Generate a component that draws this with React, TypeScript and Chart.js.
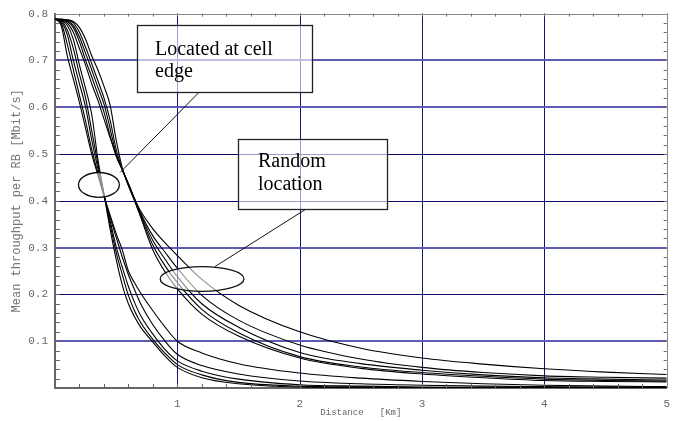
import React, { useEffect, useRef } from 'react';
import { Chart, registerables } from 'chart.js';

Chart.register(...registerables);

// Distance [Km] sample positions shared by all curves
const DIST = [0, 0.05, 0.1, 0.15, 0.2, 0.25, 0.3, 0.35, 0.4, 0.45, 0.5, 0.55, 0.6, 0.65, 0.7, 0.8, 0.9, 1.0, 1.2, 1.5, 2, 2.5, 3, 3.5, 4, 4.5, 5];

// Users located at cell edge (steeper group)
const EDGE_1 = [0.788, 0.775, 0.71, 0.66, 0.61, 0.555, 0.5, 0.455, 0.41, 0.37, 0.33, 0.295, 0.25, 0.225, 0.203, 0.165, 0.13, 0.1, 0.075, 0.052, 0.032, 0.021, 0.014, 0.009, 0.006, 0.004, 0.003];
const EDGE_2 = [0.788, 0.78, 0.735, 0.68, 0.625, 0.57, 0.51, 0.46, 0.412, 0.365, 0.322, 0.28, 0.242, 0.21, 0.18, 0.135, 0.1, 0.072, 0.048, 0.03, 0.015, 0.009, 0.006, 0.004, 0.003, 0.002, 0.0015];
const EDGE_3 = [0.788, 0.783, 0.755, 0.7, 0.65, 0.6, 0.53, 0.47, 0.413, 0.358, 0.302, 0.258, 0.217, 0.183, 0.155, 0.115, 0.082, 0.058, 0.036, 0.019, 0.007, 0.004, 0.002, 0.0015, 0.001, 0.001, 0.0005];
const EDGE_4 = [0.788, 0.785, 0.765, 0.725, 0.67, 0.62, 0.55, 0.48, 0.414, 0.35, 0.29, 0.242, 0.198, 0.165, 0.14, 0.104, 0.074, 0.05, 0.028, 0.012, 0.004, 0.002, 0.001, 0.0005, 0.0005, 0, 0];
const EDGE_5 = [0.788, 0.786, 0.775, 0.745, 0.69, 0.64, 0.585, 0.49, 0.415, 0.34, 0.275, 0.22, 0.18, 0.152, 0.13, 0.098, 0.068, 0.044, 0.022, 0.009, 0.002, 0.001, 0.0005, 0, 0, 0, 0];

// Users at random location
const RAND_1 = [0.788, 0.787, 0.78, 0.76, 0.725, 0.69, 0.65, 0.615, 0.575, 0.535, 0.498, 0.466, 0.437, 0.405, 0.378, 0.34, 0.31, 0.283, 0.232, 0.177, 0.12, 0.085, 0.064, 0.051, 0.041, 0.034, 0.029];
const RAND_2 = [0.788, 0.787, 0.783, 0.77, 0.74, 0.7, 0.665, 0.628, 0.59, 0.54, 0.495, 0.467, 0.436, 0.404, 0.374, 0.325, 0.29, 0.256, 0.198, 0.145, 0.092, 0.062, 0.044, 0.033, 0.026, 0.023, 0.021];
const RAND_3 = [0.788, 0.788, 0.785, 0.775, 0.75, 0.715, 0.68, 0.643, 0.607, 0.555, 0.5, 0.467, 0.435, 0.403, 0.371, 0.315, 0.275, 0.238, 0.18, 0.13, 0.076, 0.052, 0.038, 0.028, 0.022, 0.019, 0.017];
const RAND_4 = [0.788, 0.788, 0.786, 0.78, 0.76, 0.728, 0.693, 0.657, 0.62, 0.573, 0.51, 0.468, 0.434, 0.402, 0.368, 0.305, 0.261, 0.225, 0.168, 0.118, 0.067, 0.045, 0.033, 0.025, 0.019, 0.016, 0.015];
const RAND_5 = [0.788, 0.788, 0.787, 0.783, 0.77, 0.745, 0.71, 0.68, 0.645, 0.605, 0.53, 0.47, 0.432, 0.4, 0.365, 0.295, 0.248, 0.212, 0.158, 0.111, 0.064, 0.042, 0.03, 0.022, 0.016, 0.014, 0.013];

const SERIES = [EDGE_1, EDGE_2, EDGE_3, EDGE_4, EDGE_5, RAND_1, RAND_2, RAND_3, RAND_4, RAND_5];

const X_TICKS = [1, 2, 3, 4, 5];
const Y_TICKS = [0.1, 0.2, 0.3, 0.4, 0.5, 0.6, 0.7, 0.8];
const X_GRID = [1, 2, 3, 4];
const Y_GRID_LIGHT = [0.1, 0.3, 0.6, 0.7];
const Y_GRID_DARK = [0.2, 0.4, 0.5];

const X_TITLE = 'Distance   [Km]';
const Y_TITLE = 'Mean throughput per RB [Mbit/s]';
const LABEL_EDGE = ['Located at cell', 'edge'];
const LABEL_RANDOM = ['Random', 'location'];

const gridPlugin = {
  id: 'customGrid',
  beforeDatasetsDraw(chart: any) {
    const { ctx, chartArea, scales } = chart;
    const { left, right, top, bottom } = chartArea;
    ctx.save();
    X_GRID.forEach((v) => {
      const x = Math.round(scales.x.getPixelForValue(v));
      ctx.fillStyle = '#12127a';
      ctx.fillRect(x, top, 1, bottom - top);
    });
    Y_GRID_LIGHT.forEach((v) => {
      const y = Math.round(scales.y.getPixelForValue(v));
      ctx.fillStyle = '#5c5cb2';
      ctx.fillRect(left, y - 1, right - left, 2);
    });
    Y_GRID_DARK.forEach((v) => {
      const y = Math.round(scales.y.getPixelForValue(v));
      ctx.fillStyle = '#0a0a6c';
      ctx.fillRect(left, y, right - left, 1);
    });
    ctx.restore();
  },
};

const decorPlugin = {
  id: 'decor',
  afterDatasetsDraw(chart: any) {
    const { ctx, chartArea, scales } = chart;
    const xs = scales.x;
    const ys = scales.y;
    const px = (v: number) => xs.getPixelForValue(v);
    const py = (v: number) => ys.getPixelForValue(v);
    ctx.save();

    const ellipse = (cx: number, cy: number, rx: number, ry: number) => {
      const X = px(cx), Y = py(cy);
      const RX = px(cx + rx) - X, RY = Y - py(cy + ry);
      ctx.beginPath();
      ctx.ellipse(X, Y, RX, RY, 0, 0, Math.PI * 2);
      ctx.fillStyle = 'rgba(255,255,255,0.55)';
      ctx.fill();
      ctx.lineWidth = 1.3;
      ctx.strokeStyle = '#111';
      ctx.stroke();
    };
    ellipse(0.359, 0.434, 0.167, 0.0265);
    ellipse(1.202, 0.233, 0.342, 0.0265);

    const seg = (x1: number, y1: number, x2: number, y2: number) => {
      ctx.beginPath();
      ctx.moveTo(px(x1), py(y1));
      ctx.lineTo(px(x2), py(y2));
      ctx.lineWidth = 1;
      ctx.strokeStyle = '#111';
      ctx.stroke();
    };
    seg(1.178, 0.632, 0.534, 0.461);
    seg(1.308, 0.2595, 2.05, 0.382);

    const box = (x1: number, y1: number, x2: number, y2: number, lines: string[], dx: number, dy: number) => {
      const L = Math.round(px(x1)), T = Math.round(py(y1)), R = Math.round(px(x2)), B = Math.round(py(y2));
      ctx.fillStyle = 'rgba(255,255,255,0.6)';
      ctx.fillRect(L, T, R - L, B - T);
      ctx.lineWidth = 1.3;
      ctx.strokeStyle = '#222';
      ctx.strokeRect(L + 0.5, T + 0.5, R - L, B - T);
      ctx.fillStyle = '#000';
      ctx.font = '20px "Liberation Serif", "Times New Roman", serif';
      ctx.textAlign = 'left';
      ctx.textBaseline = 'alphabetic';
      lines.forEach((t, i) => ctx.fillText(t, L + dx, T + dy + i * 22.5));
    };
    box(0.672, 0.776, 2.098, 0.632, LABEL_EDGE, 18, 29.5);
    box(1.495, 0.533, 2.71, 0.382, LABEL_RANDOM, 20, 28);

    // frame tick marks (inward)
    ctx.strokeStyle = '#666';
    ctx.lineWidth = 1;
    for (let i = 0; i <= 40; i++) {
      const y = Math.round(py(i * 0.02)) + 0.5;
      ctx.beginPath();
      ctx.moveTo(chartArea.left, y);
      ctx.lineTo(chartArea.left + 5, y);
      ctx.moveTo(chartArea.right, y);
      ctx.lineTo(chartArea.right - 3, y);
      ctx.stroke();
    }
    for (let i = 0; i <= 25; i++) {
      const x = Math.round(px(i * 0.2)) + 0.5;
      ctx.beginPath();
      ctx.moveTo(x, chartArea.bottom);
      ctx.lineTo(x, chartArea.bottom - 4);
      ctx.moveTo(x, chartArea.top);
      ctx.lineTo(x, chartArea.top + 3);
      ctx.stroke();
    }
    ctx.strokeStyle = '#888';
    ctx.beginPath();
    ctx.moveTo(chartArea.left, Math.round(chartArea.top) + 0.5);
    ctx.lineTo(chartArea.right, Math.round(chartArea.top) + 0.5);
    ctx.moveTo(Math.round(chartArea.right) + 0.5, chartArea.top);
    ctx.lineTo(Math.round(chartArea.right) + 0.5, chartArea.bottom);
    ctx.stroke();
    ctx.restore();
  },
};

export default function App() {
  const ref = useRef<HTMLCanvasElement | null>(null);
  useEffect(() => {
    if (!ref.current) return;
    const chart = new Chart(ref.current, {
      type: 'line',
      data: {
        datasets: SERIES.map((ys, k) => ({
          label: 'curve ' + (k + 1),
          data: DIST.map((d, i) => ({ x: d, y: ys[i] })),
          borderColor: '#000',
          borderWidth: 1.1,
          pointRadius: 0,
          fill: false,
          cubicInterpolationMode: 'monotone' as const,
        })),
      },
      options: {
        responsive: false,
        animation: false,
        devicePixelRatio: 1,
        layout: { padding: { top: 10, right: 11, left: 0, bottom: 0 } },
        plugins: { legend: { display: false }, tooltip: { enabled: false } },
        scales: {
          x: {
            type: 'linear',
            min: 0,
            max: 5,
            afterBuildTicks: (s: any) => {
              s.ticks = [0, ...X_TICKS].map((v) => ({ value: v }));
            },
            ticks: {
              autoSkip: false,
              maxRotation: 0,
              padding: 9,
              color: '#666',
              font: { family: '"Liberation Mono", monospace', size: 11 },
              callback: (v: any) => (X_TICKS.includes(Number(v)) ? String(v) : ''),
            },
            grid: { display: false, drawTicks: false },
            border: { display: true, color: '#666', width: 2 },
            title: {
              display: true,
              text: X_TITLE,
              color: '#666',
              font: { family: '"Liberation Mono", monospace', size: 9 },
              padding: { top: 0, bottom: 3 },
            },
            afterFit: (s: any) => {
              s.height = 33;
            },
          },
          y: {
            type: 'linear',
            min: 0,
            max: 0.8,
            afterBuildTicks: (s: any) => {
              s.ticks = [0, ...Y_TICKS].map((v) => ({ value: v }));
            },
            ticks: {
              autoSkip: false,
              padding: 7,
              color: '#666',
              font: { family: '"Liberation Mono", monospace', size: 11 },
              callback: (v: any) => {
                const n = Math.round(Number(v) * 10);
                return n === 0 ? '' : (n / 10).toFixed(1);
              },
            },
            grid: { display: false, drawTicks: false },
            border: { display: true, color: '#666', width: 2 },
            title: {
              display: true,
              text: Y_TITLE,
              color: '#777',
              font: { family: '"Liberation Mono", monospace', size: 12 },
              padding: { top: 10, bottom: 0 },
            },
            afterFit: (s: any) => {
              s.width = 55;
            },
          },
        },
      },
      plugins: [gridPlugin, decorPlugin],
    } as any);
    return () => chart.destroy();
  }, []);
  return (
    <div style={{ position: 'fixed', left: 0, top: 0, width: 679, height: 421, background: '#fff' }}>
      <canvas ref={ref} width={679} height={421} style={{ display: 'block', width: 679, height: 421 }} />
    </div>
  );
}
